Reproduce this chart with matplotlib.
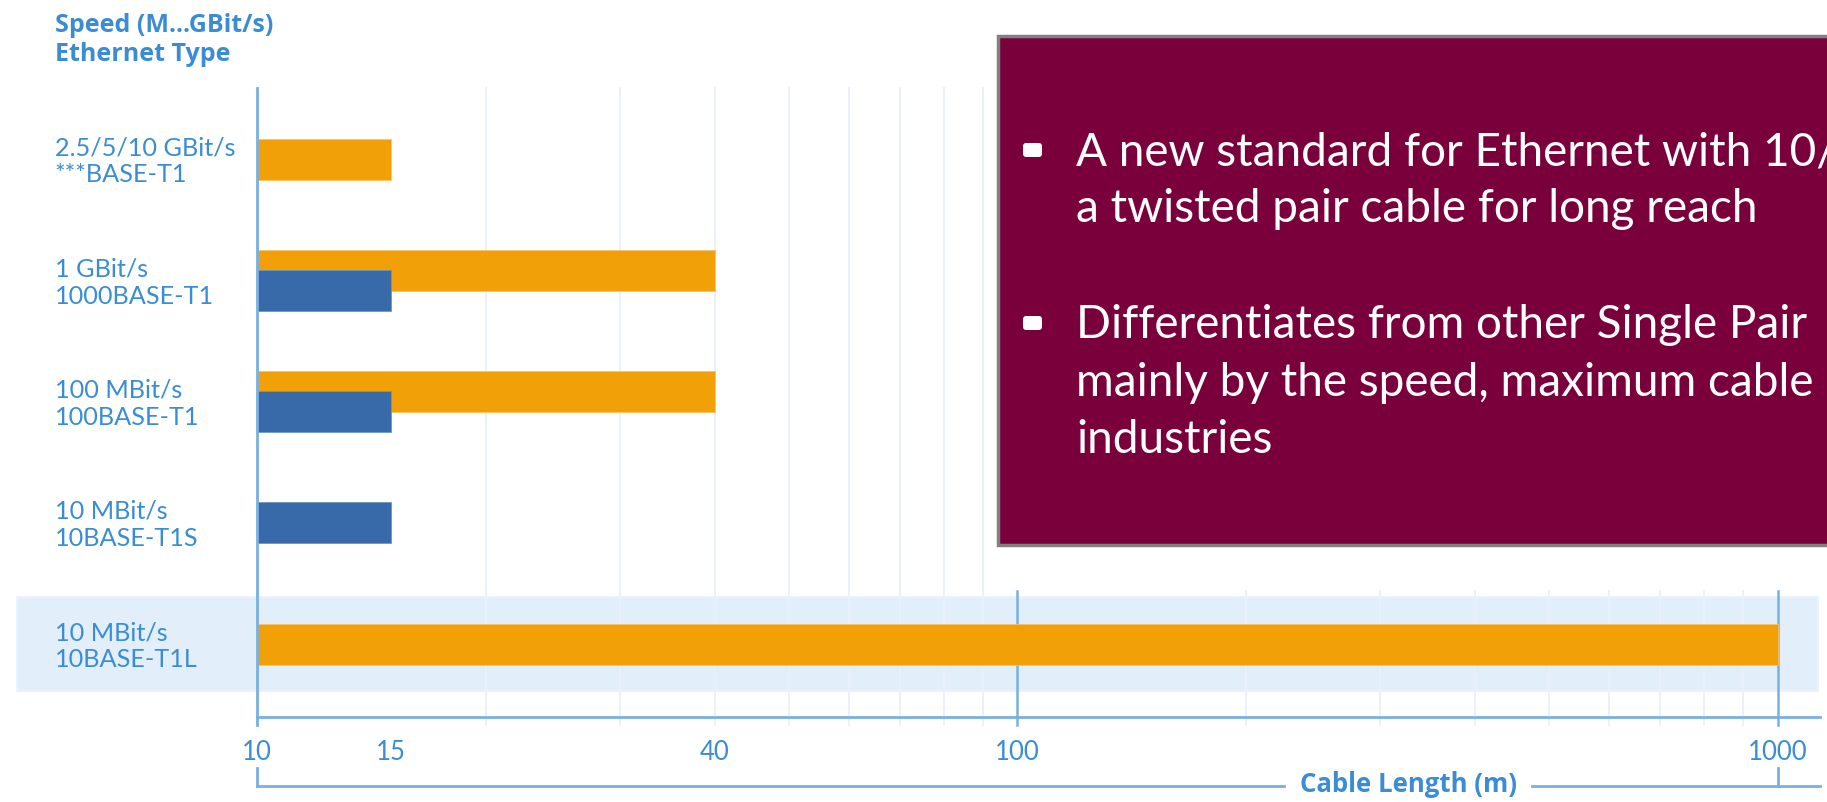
import matplotlib.pyplot as plt
from matplotlib.patches import Rectangle, FancyBboxPatch
from matplotlib.ticker import NullLocator
from matplotlib.transforms import blended_transform_factory

# chart data
categories = ["2.5/5/10 GBit/s\n***BASE-T1", "1 GBit/s\n1000BASE-T1",
              "100 MBit/s\n100BASE-T1", "10 MBit/s\n10BASE-T1S",
              "10 MBit/s\n10BASE-T1L"]
orange_len = [15, 40, 40, None, 1000]
blue_len = [None, 15, 15, 15, None]
tick_vals = [10, 15, 40, 100, 1000]
tick_labels = ["10", "15", "40", "100", "1000"]
minor_grid = [20, 30, 40, 50, 60, 70, 80, 90, 200, 300, 400, 500, 600, 700, 800, 900]
major_grid = [100, 1000]
title_lines = "Speed (M...GBit/s)\nEthernet Type"
xlabel = "Cable Length (m)"
# only the part of the overlay text that is visible in the picture
bullets = [["A new standard for Ethernet with 10/",
            "a twisted pair cable for long reach"],
           ["Differentiates from other Single Pair",
            "mainly by the speed, maximum cable",
            "industries"]]

W, H = 1827, 803
BLUE_TXT = '#3a8dd4'
AXIS = '#78b0e0'
ORANGE = '#f2a007'
BLUE = '#386aa9'

plt.rcParams['font.family'] = ['Lato', 'DejaVu Sans']

fig = plt.figure(figsize=(W / 100, H / 100), dpi=100)


def pixel_axes(z):
    a = fig.add_axes([0, 0, 1, 1], zorder=z)
    a.set_xlim(0, W)
    a.set_ylim(H, 0)
    a.axis('off')
    a.patch.set_alpha(0)
    return a


bg = pixel_axes(0)

# main chart axes, placed in pixels
x0, x1, y_top, y_axis = 257, 1820, 89, 718
ax = fig.add_axes([x0 / W, (H - y_axis) / H, (x1 - x0) / W, (y_axis - y_top) / H], zorder=1)
ax.patch.set_alpha(0)
ax.set_xscale('log')
ax.set_xlim(10, 1135.7)
ax.set_ylim(4.602, -0.586)
for s in ax.spines.values():
    s.set_visible(False)

bh = 0.338
off = 0.0825
below = (y_axis - 726) / (y_axis - y_top)
band_top = (y_axis - 592) / (y_axis - y_top)

# highlight band behind the last category
trans_band = blended_transform_factory(bg.transData, ax.transData)
bg.add_patch(Rectangle((17, 4 - 0.39), 1801, 0.78, transform=trans_band,
                       facecolor='#e2eef9', edgecolor='#eaf3fb', lw=1.5))

for g in minor_grid:
    ax.axvline(g, ymin=below, ymax=1 if g < 100 else band_top, color='#eaf1f9',
               lw=1.4, clip_on=False, zorder=0)
for g in major_grid:
    ax.axvline(g, ymin=below, ymax=band_top, color=AXIS, lw=1.8, clip_on=False, zorder=0.5)

ax.axvline(10, ymin=below, ymax=1, color=AXIS, lw=2, clip_on=False, zorder=3)
ax.axhline(4.602, color=AXIS, lw=2, clip_on=False, zorder=3)

for i in range(len(categories)):
    both = orange_len[i] is not None and blue_len[i] is not None
    if orange_len[i] is not None:
        ax.barh(i - (off if both else 0), orange_len[i] - 10, left=10, height=bh,
                color=ORANGE, edgecolor='#f6c46a', lw=0.6, zorder=2)
    if blue_len[i] is not None:
        ax.barh(i + (off if both else 0), blue_len[i] - 10, left=10, height=bh,
                color=BLUE, edgecolor='#6f95c6', lw=0.6, zorder=2.1)

ax.set_yticks([])
ax.set_xticks(tick_vals, tick_labels)
ax.xaxis.set_minor_locator(NullLocator())
ax.tick_params(axis='x', length=0, pad=16, labelsize=18.5, labelcolor=BLUE_TXT)

trans_lbl = blended_transform_factory(bg.transData, ax.transData)
for i, c in enumerate(categories):
    ax.text(55, i + 0.01, c, transform=trans_lbl, ha='left', va='center', fontsize=18.2,
            color=BLUE_TXT, linespacing=1.22)

bold = ['Open Sans', 'DejaVu Sans']
bg.text(55, 40, title_lines, ha='left', va='center', fontsize=18, fontweight='bold',
        family=bold, color=BLUE_TXT, linespacing=1.2)

# cable length bracket
bg.plot([257, 1284], [787, 787], color=AXIS, lw=2)
bg.plot([1532, 1820], [787, 787], color=AXIS, lw=2)
brk_lo = (y_axis - 787) / (y_axis - y_top)
brk_hi = (y_axis - 769) / (y_axis - y_top)
for v in [10, 1000]:
    ax.axvline(v, ymin=brk_lo, ymax=brk_hi, color=AXIS, lw=2, clip_on=False)
bg.text(1408, 785, xlabel, ha='center', va='center', fontsize=18.5, fontweight='bold',
        family=bold, color=BLUE_TXT)

# overlay text box
top = pixel_axes(3)
top.add_patch(Rectangle((998, 37), 900, 509, facecolor='#7a003c', edgecolor='#808080', lw=2.5))
baselines = [[165, 222], [338, 396, 453]]
for lines, ys in zip(bullets, baselines):
    top.add_patch(FancyBboxPatch((1023, ys[0] - 21), 19, 14,
                                 boxstyle='round,pad=0,rounding_size=3',
                                 facecolor='white', edgecolor='none'))
    for t, y in zip(lines, ys):
        top.text(1076, y, t, ha='left', va='baseline', fontsize=33, color='white')

fig.savefig('out.png', dpi=100)
